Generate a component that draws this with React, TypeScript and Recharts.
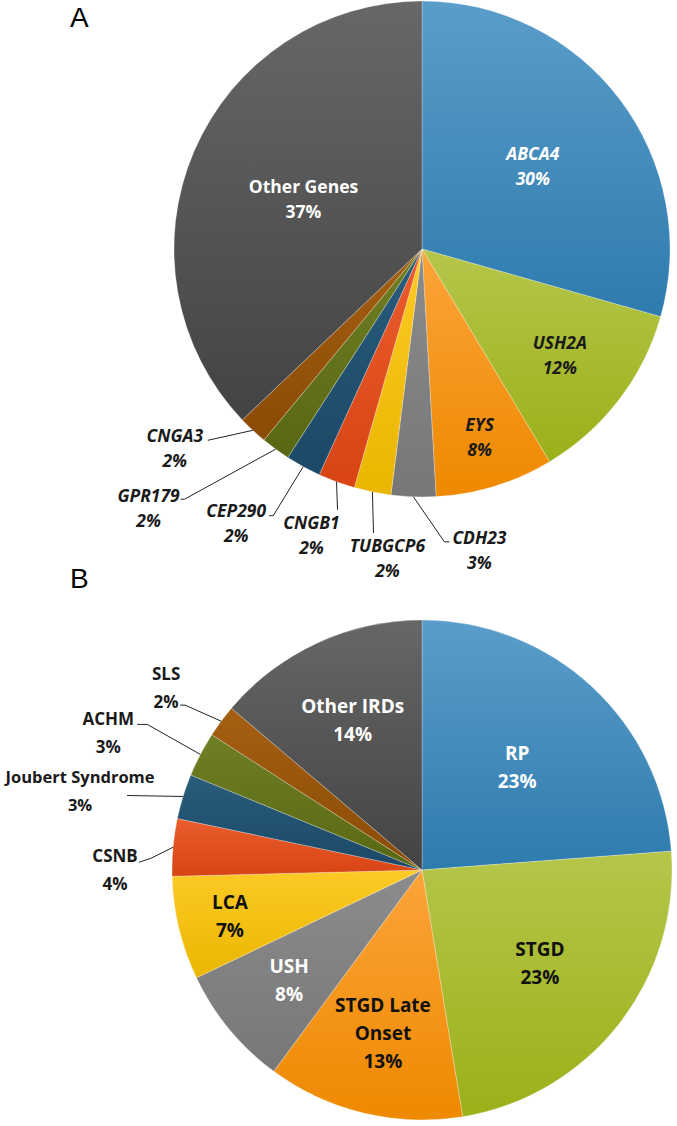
import React from 'react';
import { PieChart, Pie, Cell } from 'recharts';

// Panel A: genes
const genes = ['ABCA4', 'USH2A', 'EYS', 'CDH23', 'TUBGCP6', 'CNGB1', 'CEP290', 'GPR179', 'CNGA3', 'Other Genes'];
const geneShares = [29.4, 12.0, 7.7, 2.9, 2.4, 2.4, 2.3, 1.9, 1.9, 37.1];
const genePct = ['30%', '12%', '8%', '3%', '2%', '2%', '2%', '2%', '2%', '37%'];

// Panel B: diagnoses
const irds = ['RP', 'STGD', 'STGD Late\nOnset', 'USH', 'LCA', 'CSNB', 'Joubert Syndrome', 'ACHM', 'SLS', 'Other IRDs'];
const irdShares = [23.8, 23.6, 12.7, 7.8, 6.7, 3.7, 2.9, 2.9, 2.1, 13.8];
const irdPct = ['23%', '23%', '13%', '8%', '7%', '4%', '3%', '3%', '2%', '14%'];

// slice colours, top -> bottom of gradient
const palette: [string, string][] = [
  ['#5a9dca', '#2e7bae'],
  ['#b5c64a', '#9bb019'],
  ['#fca43a', '#ee8900'],
  ['#8c8c8c', '#777777'],
  ['#fdca26', '#eab600'],
  ['#ea5d2e', '#d84414'],
  ['#2a5c7c', '#1b4866'],
  ['#707f24', '#586812'],
  ['#a55f12', '#8a4b05'],
  ['#676767', '#434343'],
];

type Spec = {
  r?: number;
  dx?: number;
  dy?: number;
  line?: [number, number][];
  color: string;
  italic: boolean;
  size?: number;
};

const specA: Spec[] = [
  { r: 0.56, color: '#ffffff', italic: true },
  { r: 0.7, color: '#1a1a1a', italic: true },
  { r: 0.79, color: '#1a1a1a', italic: true },
  { dx: 66, dy: 53, line: [[31, 45], [36, 45]], color: '#1a1a1a', italic: true },
  { dx: 15, dy: 65, line: [[1, 41]], color: '#1a1a1a', italic: true },
  { dx: -25, dy: 53, line: [[1, 28]], color: '#1a1a1a', italic: true },
  { dx: -67, dy: 56, line: [[-30, 49], [-34, 49]], color: '#1a1a1a', italic: true },
  { dx: -127, dy: 58, line: [[-91, 50], [-95, 50]], color: '#1a1a1a', italic: true },
  { dx: -78, dy: 17, line: [[-45, 10]], color: '#1a1a1a', italic: true },
  { r: 0.52, color: '#ffffff', italic: false },
];

const specB: Spec[] = [
  { r: 0.56, color: '#ffffff', italic: false },
  { r: 0.6, color: '#111111', italic: false },
  { r: 0.67, color: '#111111', italic: false },
  { r: 0.69, color: '#ffffff', italic: false },
  { r: 0.79, color: '#111111', italic: false },
  { dx: -58, dy: 22, line: [[-22, 11], [-34, 15]], color: '#1a1a1a', italic: false, size: 17 },
  { dx: -103, dy: -6, line: [[-56, -1]], color: '#1a1a1a', italic: false, size: 16.5 },
  { dx: -92, dy: -22, line: [[-53, -30], [-63, -30]], color: '#1a1a1a', italic: false, size: 17 },
  { dx: -55, dy: -34, line: [[-36, -16], [-41, -16]], color: '#1a1a1a', italic: false, size: 17 },
  { r: 0.66, color: '#ffffff', italic: false },
];

const RAD = Math.PI / 180;

const makeLabel = (specs: Spec[], names: string[], pcts: string[], fontSize: number, lh: number) =>
  (props: any) => {
    const { cx, cy, midAngle, outerRadius, index } = props;
    const s = specs[index];
    const cos = Math.cos(-midAngle * RAD);
    const sin = Math.sin(-midAngle * RAD);
    let x: number;
    let y: number;
    let leader: React.ReactNode = null;
    if (s.r) {
      x = cx + outerRadius * s.r * cos;
      y = cy + outerRadius * s.r * sin;
    } else {
      const ex = cx + outerRadius * cos;
      const ey = cy + outerRadius * sin;
      x = ex + (s.dx || 0);
      y = ey + (s.dy || 0);
      const pts = [[ex, ey], ...(s.line || []).map(([a, b]) => [ex + a, ey + b])];
      leader = (
        <polyline
          points={pts.map((p) => p.join(',')).join(' ')}
          fill="none"
          stroke="#222"
          strokeWidth={1}
        />
      );
    }
    const lines = [...names[index].split('\n'), pcts[index]];
    const y0 = y - ((lines.length - 1) * lh) / 2;
    return (
      <g key={`lbl-${index}`}>
        {leader}
        {lines.map((t, i) => (
          <text
            key={i}
            x={x}
            y={y0 + i * lh}
            textAnchor="middle"
            dominantBaseline="central"
            fontSize={s.size || fontSize}
            fontWeight={700}
            fontStyle={s.italic ? 'italic' : 'normal'}
            fill={s.color}
          >
            {t}
          </text>
        ))}
      </g>
    );
  };

const dataA = genes.map((name, i) => ({ name, value: geneShares[i] }));
const dataB = irds.map((name, i) => ({ name, value: irdShares[i] }));

const letterStyle: React.CSSProperties = {
  position: 'absolute',
  left: 70,
  fontFamily: '"Liberation Sans", Arial, sans-serif',
  fontSize: 28,
  lineHeight: '28px',
  color: '#000',
};

export default function App() {
  return (
    <div
      style={{
        position: 'absolute',
        left: 0,
        top: 0,
        width: 677,
        height: 1126,
        background: '#fff',
        fontFamily: '"Open Sans", sans-serif',
        overflow: 'hidden',
      }}
    >
      <svg width={0} height={0} style={{ position: 'absolute' }}>
        <defs>
          {palette.map(([a, b], i) => (
            <linearGradient key={i} id={`grad${i}`} x1="0" y1="0" x2="0" y2="1">
              <stop offset="0%" stopColor={a} />
              <stop offset="100%" stopColor={b} />
            </linearGradient>
          ))}
        </defs>
      </svg>

      <div style={{ ...letterStyle, top: 4 }}>A</div>
      <div style={{ ...letterStyle, top: 565 }}>B</div>

      <div style={{ position: 'absolute', left: 0, top: 0 }}>
        <PieChart width={677} height={590} margin={{ top: 0, right: 0, bottom: 0, left: 0 }}>
          <Pie
            data={dataA}
            dataKey="value"
            nameKey="name"
            cx={422}
            cy={249}
            outerRadius={248}
            startAngle={90}
            endAngle={-270}
            stroke="rgba(255,255,255,0.35)"
            strokeWidth={0.75}
            labelLine={false}
            label={makeLabel(specA, genes, genePct, 17.5, 25)}
            isAnimationActive={false}
          >
            {dataA.map((d, i) => (
              <Cell key={d.name} fill={`url(#grad${i})`} />
            ))}
          </Pie>
        </PieChart>
      </div>

      <div style={{ position: 'absolute', left: 0, top: 560 }}>
        <PieChart width={677} height={566} margin={{ top: 0, right: 0, bottom: 0, left: 0 }}>
          <Pie
            data={dataB}
            dataKey="value"
            nameKey="name"
            cx={422}
            cy={310}
            outerRadius={250}
            startAngle={90}
            endAngle={-270}
            stroke="rgba(255,255,255,0.35)"
            strokeWidth={0.75}
            labelLine={false}
            label={makeLabel(specB, irds, irdPct, 19, 28)}
            isAnimationActive={false}
          >
            {dataB.map((d, i) => (
              <Cell key={d.name} fill={`url(#grad${i})`} />
            ))}
          </Pie>
        </PieChart>
      </div>
    </div>
  );
}
